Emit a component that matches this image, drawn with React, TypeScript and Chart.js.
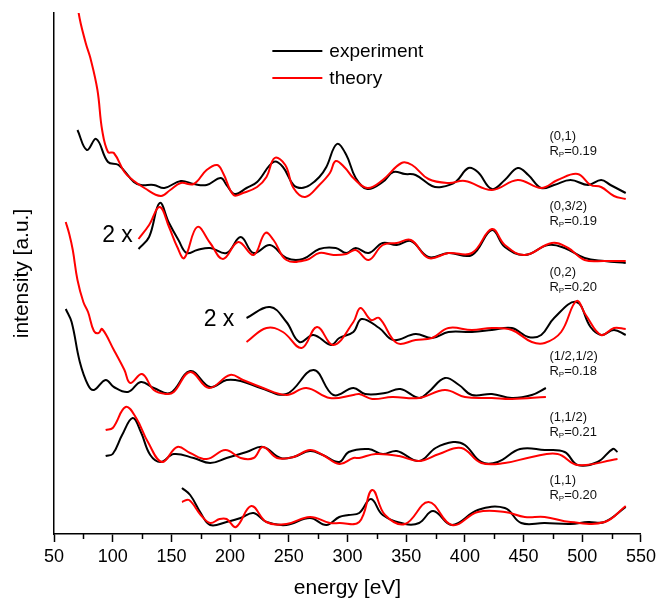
import React, { useEffect, useRef } from 'react';
import { Chart, registerables } from 'chart.js';

Chart.register(...registerables);

type P = [number, number];

const FONT = '"Liberation Sans", Arial, sans-serif';
const BLACK = '#000000';
const RED = '#ff0000';

// ---- data: [energy eV, intensity a.u.] ----
const exp01: P[] = [[70,404],[78,384],[86,395],[96,372],[105,369],[118,352],[124,349],[135,349],[144,346],[158,353],[169,350],[180,349],[192,356],[197,349],[204,340],[214,346],[223,352],[237,372],[245,367],[254,349],[261,346],[268,349],[276,357],[282,367],[291,390],[299,379],[307,356],[317,345],[330,352],[339,362],[349,360],[358,359],[372,348],[380,347],[392,352],[403,366],[411,362],[423,345],[434,354],[445,366],[454,359],[465,346],[476,349],[490,354],[505,349],[516,354],[524,349],[537,341]];
const th01: P[] = [[69,548],[71,521],[77,491],[81,476],[87,444],[91,404],[96,382],[101,381],[110,362],[117,354],[127,346],[141,338],[149,344],[158,351],[169,350],[180,364],[189,369],[194,361],[203,339],[211,341],[223,347],[231,357],[238,376],[247,369],[254,346],[264,337],[276,349],[285,361],[290,373],[298,366],[305,356],[317,346],[330,354],[346,371],[355,369],[369,355],[386,351],[400,353],[423,344],[445,354],[465,346],[479,354],[496,360],[507,349],[516,347],[527,338],[537,335]];

const exp032: P[] = [[122,285],[131,297],[140,331],[148,311],[156,294],[163,281],[172,284],[183,286],[197,281],[209,297],[220,281],[234,289],[248,276],[262,275],[276,285],[290,286],[299,281],[307,286],[318,281],[330,291],[342,289],[354,293],[369,277],[386,281],[406,279],[423,304],[434,287],[451,279],[471,289],[485,286],[502,276],[519,273],[537,271]];
const th032: P[] = [[122,295],[131,309],[140,327],[148,307],[155,287],[161,276],[172,307],[183,291],[194,275],[207,292],[220,279],[230,301],[237,294],[248,274],[265,274],[276,281],[288,279],[299,280],[307,284],[318,274],[330,289],[342,291],[354,294],[369,276],[386,281],[406,281],[423,305],[434,289],[451,279],[474,291],[488,286],[502,274],[519,273],[537,273]];

const exp02: P[] = [[214,216],[234,227],[248,212],[259,192],[271,199],[286,189],[293,196],[305,202],[312,215],[327,206],[339,194],[358,200],[372,196],[386,202],[406,202],[423,204],[440,206],[454,197],[465,199],[476,216],[495,232],[507,207],[516,199],[527,204],[537,199]];
const th02: P[] = [[214,192],[231,206],[245,202],[261,186],[274,207],[288,189],[305,212],[311,226],[320,214],[327,216],[342,191],[358,194],[372,196],[386,206],[406,204],[423,206],[440,204],[457,192],[468,191],[482,202],[495,233],[503,219],[516,199],[527,206],[537,205]];

const expHH: P[] = [[60,225],[65,212],[72,172],[79,149],[84,144],[94,154],[101,147],[113,142],[124,152],[135,146],[149,141],[166,163],[183,147],[197,154],[209,153],[226,146],[248,140],[271,164],[288,139],[305,146],[315,140],[332,141],[345,145],[361,136],[369,142],[383,156],[395,149],[406,139],[423,140],[440,136],[457,139],[469,146]];
const thHH: P[] = [[60,312],[63,300],[66,284],[70,254],[75,232],[79,222],[84,203],[88,201],[91,205],[101,184],[110,164],[115,151],[125,160],[135,144],[146,140],[152,142],[166,162],[182,146],[200,159],[211,154],[226,147],[248,139],[265,146],[285,136],[305,139],[310,140],[321,135],[338,137],[361,136],[383,144],[400,137],[423,136],[440,135],[469,137]];

const exp1H: P[] = [[94,78],[100,80],[108,99],[117,116],[124,102],[132,79],[141,72],[152,80],[169,76],[183,71],[197,76],[214,82],[228,87],[243,76],[254,77],[268,83],[279,79],[293,72],[301,82],[318,85],[330,80],[342,83],[361,73],[375,86],[390,92],[400,89],[414,72],[428,72],[447,85],[468,84],[485,82],[496,69],[513,72],[526,85],[530,82]];
const th1H: P[] = [[94,104],[100,106],[111,127],[120,116],[130,92],[142,72],[155,87],[166,81],[180,75],[196,84],[209,76],[220,76],[228,87],[240,76],[254,77],[268,84],[279,79],[293,70],[305,76],[310,76],[324,80],[344,78],[361,73],[378,80],[397,86],[414,71],[434,71],[457,77],[479,80],[496,69],[530,75]];

const exp11: P[] = [[159,46],[166,39],[175,21],[183,9],[197,12],[209,16],[220,21],[231,12],[248,9],[268,16],[282,9],[293,17],[301,19],[310,21],[320,35],[330,19],[349,10],[361,11],[373,23],[389,9],[411,24],[434,26],[448,11],[468,11],[490,10],[505,12],[519,12],[537,27]];
const th11: P[] = [[159,32],[165,34],[175,19],[183,11],[191,15],[197,15],[205,7],[218,28],[231,12],[248,10],[268,17],[285,11],[293,11],[310,12],[321,44],[332,19],[349,10],[369,32],[389,9],[411,22],[434,22],[451,17],[468,17],[490,12],[519,12],[537,28]];

const experimentSeries: P[][] = [exp01, exp032, exp02, expHH, exp1H, exp11];
const theorySeries: P[][] = [th01, th032, th02, thHH, th1H, th11];

const beamNames = ['(0,1)', '(0,3/2)', '(0,2)', '(1/2,1/2)', '(1,1/2)', '(1,1)'];
const rFactors = ['0.19', '0.19', '0.20', '0.18', '0.21', '0.20'];

const xTicks = [50, 100, 150, 200, 250, 300, 350, 400, 450, 500, 550];
const xMinorTicks = [75, 125, 175, 225, 275, 325, 375, 425, 475, 525];

// label anchors in data coordinates (energy, intensity)
const beamLabelAt: P[] = [[472, 398], [472, 328], [472, 262], [472, 178], [472, 117], [472, 54]];
const scaleNoteAt: P[] = [[91, 298], [177.5, 214]];
const legendAt: P = [236, 483];

const annotations = {
  id: 'annotations',
  afterDraw(chart: any) {
    const { ctx, chartArea } = chart;
    const x = chart.scales.x;
    const y = chart.scales.y;
    ctx.save();
    // minor ticks
    ctx.strokeStyle = BLACK;
    ctx.lineWidth = 1.5;
    for (const t of xMinorTicks) {
      const px = Math.round(x.getPixelForValue(t)) + 0.5;
      ctx.beginPath();
      ctx.moveTo(px, chartArea.bottom);
      ctx.lineTo(px, chartArea.bottom + 5);
      ctx.stroke();
    }
    // beam labels
    ctx.fillStyle = '#111';
    ctx.textAlign = 'left';
    ctx.textBaseline = 'middle';
    beamNames.forEach((name, i) => {
      const px = x.getPixelForValue(beamLabelAt[i][0]);
      const py = y.getPixelForValue(beamLabelAt[i][1]);
      ctx.font = `13px ${FONT}`;
      ctx.fillText(name, px, py);
      const py2 = py + 15;
      ctx.fillText('R', px, py2);
      const wR = ctx.measureText('R').width;
      ctx.font = `8px ${FONT}`;
      ctx.fillText('P', px + wR, py2 + 4);
      const wP = ctx.measureText('P').width;
      ctx.font = `13px ${FONT}`;
      ctx.fillText('=' + rFactors[i], px + wR + wP, py2);
    });
    // "2 x" notes
    ctx.font = `23px ${FONT}`;
    ctx.fillStyle = BLACK;
    for (const [e, v] of scaleNoteAt) {
      ctx.fillText('2 x', x.getPixelForValue(e), y.getPixelForValue(v));
    }
    // legend
    const lx = x.getPixelForValue(legendAt[0]);
    const ly = y.getPixelForValue(legendAt[1]);
    const items = [
      { label: 'experiment', color: BLACK },
      { label: 'theory', color: RED },
    ];
    items.forEach((it, i) => {
      const yy = ly + i * 27;
      ctx.strokeStyle = it.color;
      ctx.lineWidth = 2;
      ctx.beginPath();
      ctx.moveTo(lx, yy);
      ctx.lineTo(lx + 50, yy);
      ctx.stroke();
      ctx.fillStyle = BLACK;
      ctx.font = `19px ${FONT}`;
      ctx.fillText(it.label, lx + 57, yy + 1);
    });
    ctx.restore();
  },
};

export default function App() {
  const ref = useRef<HTMLCanvasElement | null>(null);
  useEffect(() => {
    if (!ref.current) return;
    const toXY = (s: P[]) => s.map(([e, v]) => ({ x: e, y: v }));
    const datasets: any[] = [];
    const lineStyle = { borderWidth: 2, pointRadius: 0, tension: 0.4 };
    experimentSeries.forEach((s, i) => {
      datasets.push({
        label: 'experiment ' + beamNames[i],
        data: toXY(s),
        borderColor: BLACK,
        ...lineStyle,
        order: 1,
      });
    });
    theorySeries.forEach((s, i) => {
      datasets.push({
        label: 'theory ' + beamNames[i],
        data: toXY(s),
        borderColor: RED,
        ...lineStyle,
        order: 0,
      });
    });
    const chart = new Chart(ref.current, {
      type: 'line',
      data: { datasets },
      options: {
        animation: false,
        responsive: false,
        maintainAspectRatio: false,
        layout: { padding: { top: 13, right: 17, left: 0, bottom: 0 } },
        plugins: { legend: { display: false }, tooltip: { enabled: false } },
        scales: {
          x: {
            type: 'linear',
            min: 50,
            max: 550,
            afterBuildTicks: (s: any) => {
              s.ticks = xTicks.map((v) => ({ value: v }));
            },
            afterFit: (s: any) => {
              s.height = 65;
            },
            ticks: {
              autoSkip: false,
              maxRotation: 0,
              padding: 4,
              color: BLACK,
              font: { family: FONT, size: 18 },
            },
            grid: {
              drawOnChartArea: false,
              drawTicks: true,
              tickLength: 8,
              tickColor: BLACK,
              tickWidth: 1.5,
              color: BLACK,
            },
            border: { display: true, color: BLACK, width: 1.5 },
            title: {
              display: true,
              text: 'energy [eV]',
              color: BLACK,
              font: { family: FONT, size: 21, lineHeight: 1 },
              padding: { top: 0, bottom: 0 },
            },
          },
          y: {
            type: 'linear',
            min: 0,
            max: 521,
            afterFit: (s: any) => {
              s.width = 54;
            },
            ticks: { display: false },
            grid: { display: false, drawTicks: false },
            border: { display: true, color: BLACK, width: 1.5 },
            title: {
              display: true,
              text: 'intensity [a.u.]',
              color: BLACK,
              font: { family: FONT, size: 21, lineHeight: 1.2 },
              padding: { top: 10, bottom: 0 },
            },
          },
        },
      },
      plugins: [annotations],
    });
    return () => chart.destroy();
  }, []);
  return (
    <div style={{ position: 'absolute', left: 0, top: 0, width: 660, height: 599, background: '#fff' }}>
      <canvas ref={ref} width={660} height={599} />
    </div>
  );
}
